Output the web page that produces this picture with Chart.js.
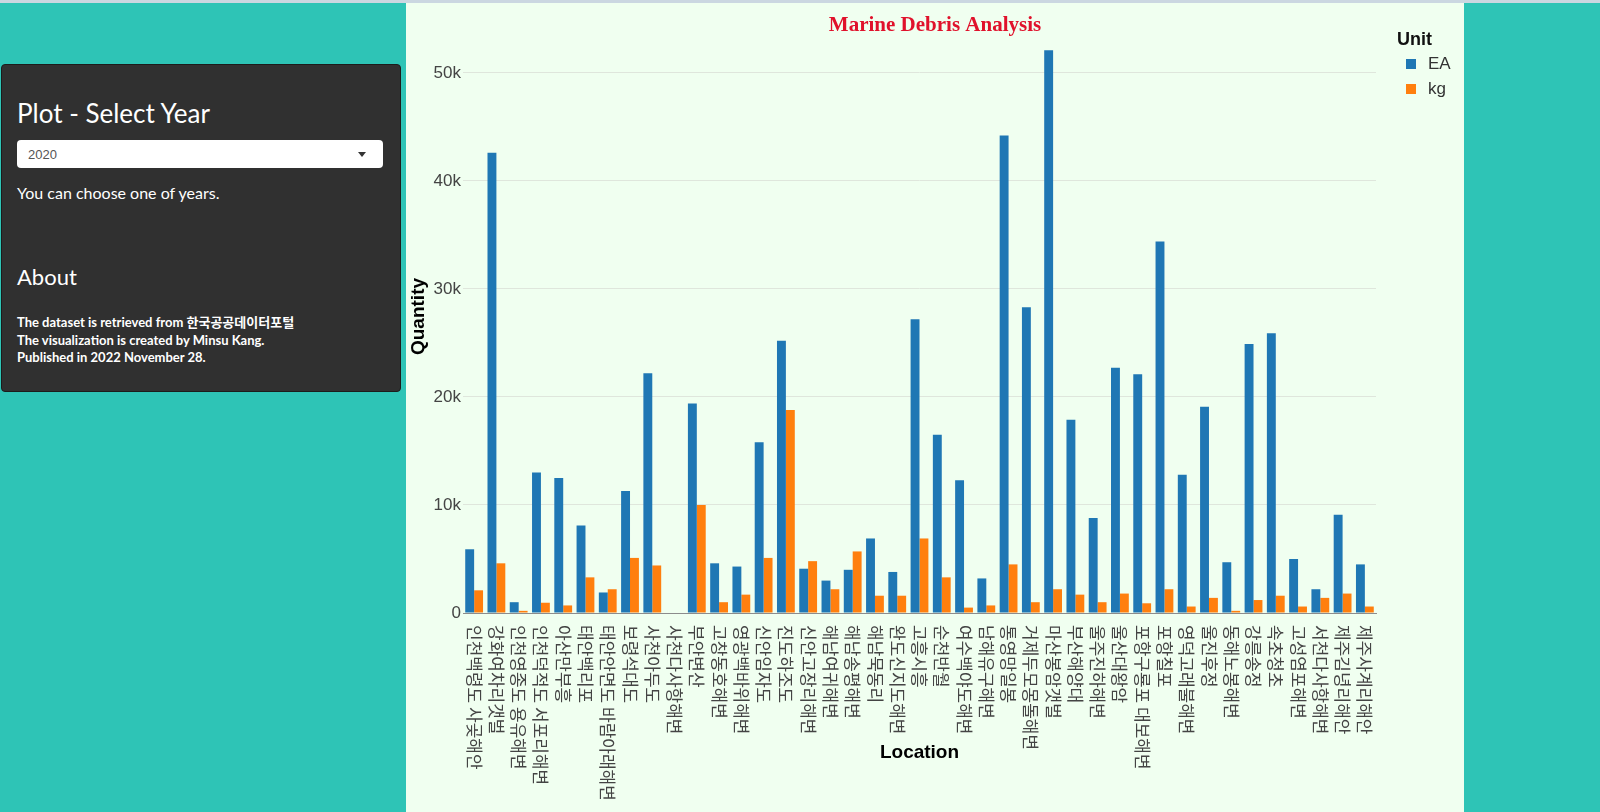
<!DOCTYPE html>
<html lang="ko">
<head>
<meta charset="UTF-8">
<title>Marine Debris Analysis</title>
<script src="https://cdn.jsdelivr.net/npm/chart.js"></script>
<style>
    body { margin: 0; width: 1600px; height: 812px; background: #2ec4b6; position: relative; overflow: hidden; font-family: Lato, "Noto Sans CJK KR", sans-serif; }
    .topline { position: absolute; left: 0; top: 0; width: 1600px; height: 3px; background: #cbd7e1; }
    .sidebar { position: absolute; left: 1px; top: 64px; width: 398px; height: 326px; background: #303030; border: 1px solid #1c1c1c; border-radius: 4px; color: #fff; }
    .sidebar div { position: absolute; left: 15px; white-space: nowrap; line-height: normal; }
    .h-plot { top: 32px; font-size: 26px; }
    .select { top: 75px; width: 366px; height: 28px; background: #fff; border-radius: 4px; }
    .select span { position: absolute; left: 11px; top: 7px; font-family: "Liberation Sans", Arial, sans-serif; font-size: 13px; color: #555; }
    .select i { position: absolute; right: 17px; top: 12px; border-left: 4px solid transparent; border-right: 4px solid transparent; border-top: 5px solid #333; }
    .note { top: 118px; font-size: 16px; }
    .h-about { top: 198px; font-size: 22px; }
    .about { top: 249px; font-size: 13px; font-weight: bold; line-height: 17.5px !important; }
    .plot { position: absolute; left: 406px; top: 3px; width: 1058px; height: 809px; background: #f0fff0; }
</style>
</head>
<body>
<div class="topline"></div>

<div class="sidebar">
    <div class="h-plot">Plot - Select Year</div>
    <div class="select"><span>2020</span><i></i></div>
    <div class="note">You can choose one of years.</div>
    <div class="h-about">About</div>
    <div class="about">The dataset is retrieved from 한국공공데이터포털<br>The visualization is created by Minsu Kang.<br>Published in 2022 November 28.</div>
</div>

<div class="plot">
    <canvas id="debrisChart" width="1058" height="809"></canvas>
</div>

<script>
    // 2020 data
    const locations = [
        '인천백령도 사곶해안', '강화여차리갯벌', '인천영종도 용유해변', '인천덕적도 서포리해변', '아산만부흥',
        '태안백리포', '태안안면도 바람아래해변', '보령석대도', '사천아두도', '사천다사항해변',
        '부안변산', '고창동호해변', '영광백바위해변', '신안임자도', '진도하조도',
        '신안고장리해변', '해남여귀해변', '해남송평해변', '해남묵동리', '완도신지도해변',
        '고흥시흥', '순천반월', '여수백야도해변', '남해유구해변', '통영망일봉',
        '거제두모몽돌해변', '마산봉암갯벌', '부산해양대', '울주진하해변', '울산대왕암',
        '포항구룡포 대보해변', '포항칠포', '영덕고래불해변', '울진후정', '동해노봉해변',
        '강릉송정', '속초청초', '고성염포해변', '서천다사항해변', '제주김녕리해안',
        '제주사계리해안'
    ];

    const eaValues = [
        5900, 42600, 1000, 13000, 12500,
        8100, 1900, 11300, 22200, 0,
        19400, 4600, 4300, 15800, 25200,
        4100, 3000, 4000, 6900, 3800,
        27200, 16500, 12300, 3200, 44200,
        28300, 52100, 17900, 8800, 22700,
        22100, 34400, 12800, 19100, 4700,
        24900, 25900, 5000, 2200, 9100,
        4500
    ];

    const kgValues = [
        2100, 4600, 200, 950, 700,
        3300, 2200, 5100, 4400, 0,
        10000, 1000, 1700, 5100, 18800,
        4800, 2200, 5700, 1600, 1600,
        6900, 3300, 500, 700, 4500,
        1000, 2200, 1700, 1000, 1800,
        900, 2200, 600, 1400, 200,
        1200, 1600, 600, 1400, 1800,
        600
    ];

    const units = ['EA', 'kg'];
    const unitColors = ['#1f77b4', '#ff7f0e'];
    const legendTitle = 'Unit';
    const yTicks = [0, 10000, 20000, 30000, 40000, 50000];
    const yTickLabels = ['0', '10k', '20k', '30k', '40k', '50k'];
    const yMax = 54900;

    const axisFont = '"Liberation Sans", Arial, sans-serif';

    // x labels read top to bottom, so they are drawn here instead of by the scale
    const verticalLabels = {
        id: 'verticalLabels',
        afterDraw(chart) {
            const xs = chart.scales.x;
            const ctx = chart.ctx;
            ctx.save();
            ctx.font = '17px "Noto Sans CJK KR", sans-serif';
            ctx.fillStyle = '#444';
            ctx.textAlign = 'left';
            ctx.textBaseline = 'middle';
            xs.ticks.forEach(function (t, i) {
                ctx.save();
                ctx.translate(xs.getPixelForTick(i), xs.top + 12);
                ctx.rotate(Math.PI / 2);
                ctx.fillText(xs.getLabelForValue(t.value), 0, 0);
                ctx.restore();
            });
            ctx.restore();
        }
    };

    const unitLegend = {
        id: 'unitLegend',
        afterDraw(chart) {
            const ctx = chart.ctx;
            const x0 = chart.chartArea.right + 21;
            ctx.save();
            ctx.textBaseline = 'middle';
            ctx.textAlign = 'left';
            ctx.font = 'bold 18px ' + axisFont;
            ctx.fillStyle = '#111';
            ctx.fillText(legendTitle, x0, 37);
            chart.data.datasets.forEach(function (ds, i) {
                const y = 61 + i * 25;
                ctx.fillStyle = ds.backgroundColor;
                ctx.fillRect(x0 + 9, y - 5, 10, 10);
                ctx.font = '17px ' + axisFont;
                ctx.fillStyle = '#333';
                ctx.fillText(ds.label, x0 + 31, y);
            });
            ctx.restore();
        }
    };

    const data = {
        labels: locations,
        datasets: [eaValues, kgValues].map(function (vals, i) {
            return {
                label: units[i],
                data: vals,
                backgroundColor: unitColors[i],
                borderWidth: 0,
                categoryPercentage: 0.8,
                barPercentage: 1.0
            };
        })
    };

    const config = {
        type: 'bar',
        data,
        options: {
            responsive: false,
            animation: false,
            layout: { padding: { left: 0, right: 0, top: 0, bottom: 48 } },
            plugins: {
                legend: { display: false },
                tooltip: { enabled: false },
                title: {
                    display: true,
                    text: 'Marine Debris Analysis',
                    color: '#e0112b',
                    font: { family: '"Liberation Serif", "Times New Roman", serif', size: 21, weight: 'bold', lineHeight: 1.2 },
                    padding: { top: 9.9, bottom: -18.1 }
                }
            },
            scales: {
                x: {
                    grid: { display: false },
                    border: { color: '#8c8c8c', z: 1 },
                    ticks: { display: false },
                    title: {
                        display: true,
                        text: 'Location',
                        color: '#000',
                        font: { family: axisFont, size: 19, weight: 'bold', lineHeight: 1.2 },
                        padding: 0
                    },
                    afterFit: function (s) { s.height = 151; }
                },
                y: {
                    min: 0,
                    max: yMax,
                    afterBuildTicks: function (s) {
                        s.ticks = yTicks.map(function (v) { return { value: v }; });
                    },
                    ticks: {
                        padding: 2,
                        color: '#444',
                        font: { family: axisFont, size: 17 },
                        callback: function (v) { return yTickLabels[yTicks.indexOf(v)]; }
                    },
                    grid: {
                        drawTicks: false,
                        color: function (c) { return c.tick && c.tick.value === 0 ? 'rgba(0,0,0,0)' : '#dfe6dc'; }
                    },
                    border: { display: false },
                    title: {
                        display: true,
                        text: 'Quantity',
                        color: '#000',
                        font: { family: axisFont, size: 19, weight: 'bold', lineHeight: 1.2 },
                        padding: { top: 1.6, bottom: 0 }
                    },
                    afterFit: function (s) { s.width = 57; }
                },
                // empty strip on the right that holds the Unit legend
                legendSpace: {
                    type: 'linear',
                    position: 'right',
                    grid: { display: false },
                    border: { display: false },
                    ticks: { display: false },
                    afterFit: function (s) { s.width = 88; }
                }
            }
        },
        plugins: [verticalLabels, unitLegend]
    };

    new Chart(document.getElementById('debrisChart'), config);
</script>
</body>
</html>
